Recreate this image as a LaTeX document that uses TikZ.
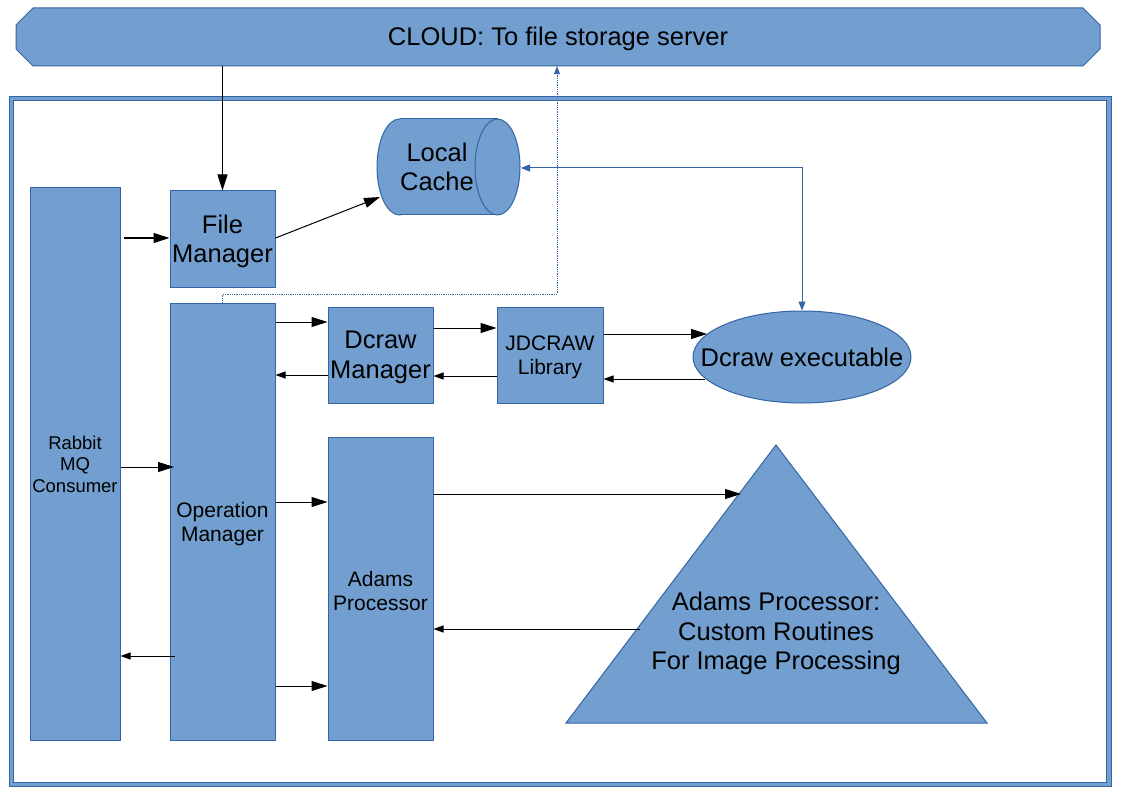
\documentclass[tikz,border=0pt]{standalone}
\usepackage{fontspec}
\setmainfont{Liberation Sans}
\usetikzlibrary{arrows.meta,shapes.geometric}
\definecolor{fillc}{HTML}{729FCF}
\definecolor{bordc}{HTML}{3465A4}
\newcommand{\bigf}{\fontsize{25.5}{29.3}\selectfont}
\newcommand{\medf}{\fontsize{21}{24.2}\selectfont}
\newcommand{\smlf}{\fontsize{18.5}{21.5}\selectfont}
\tikzset{
  box/.style={draw=bordc, fill=fillc, line width=1pt, inner sep=0pt},
  bt/.style={align=center, inner sep=0pt, text=black, yshift=-2.5pt},
  bt0/.style={align=center, inner sep=0pt, text=black},
  shp/.style={draw=bordc, fill=fillc, line width=1pt},
  bigarr/.style={line width=1pt, -{Triangle[length=16pt,width=10pt]}},
  smlarr/.style={line width=1pt, -{Triangle[length=10pt,width=7pt]}},
  bluearr/.style={draw=bordc, line width=1pt, {Triangle[length=9pt,width=7pt]}-{Triangle[length=9pt,width=7pt]}},
}
\begin{document}
\begin{tikzpicture}[x=1pt,y=-1pt]
\useasboundingbox (0,0) rectangle (1123,794);
% frame
\draw[shp] (9,97) rectangle (1111,786);
\draw[draw=bordc, fill=white, line width=1pt] (13.5,101) rectangle (1106.5,782);
% cloud
\draw[shp] (33,8) -- (1083,8) -- (1100,25) -- (1100,49) -- (1083,66) -- (33,66) -- (16,49) -- (16,25) -- cycle;
\node[inner sep=0pt, minimum width=1084pt, minimum height=58pt, label={[bt0,yshift=-1.5pt,font=\bigf]center:CLOUD: To file storage server}] (cloud) at (558,37) {};
% local cache cylinder
\draw[shp] (399.5,167) ellipse [x radius=22.5, y radius=48];
\fill[fillc] (399.5,119) rectangle (497.5,215);
\draw[draw=bordc, line width=1pt] (399.5,119) -- (497.5,119) (399.5,215) -- (497.5,215);
\draw[shp] (497.5,167) ellipse [x radius=22.5, y radius=48];
\node[bt0, font=\bigf] (cache) at (437,167) {Local\\Cache};
\coordinate (cacheE) at (521,168);
\coordinate (cacheW) at (380,197);
% boxes
\node[box, minimum width=90pt, minimum height=552pt, label={[bt0,font=\smlf]center:{Rabbit\\MQ\\Consumer}}] (rabbit) at (75,464) {};
\node[box, minimum width=105pt, minimum height=96pt, label={[bt,font=\bigf]center:{File\\Manager}}] (fm) at (222.5,239) {};
\node[box, minimum width=105pt, minimum height=437pt, label={[bt,font=\medf]center:{Operation\\Manager}}] (opm) at (222.5,521.5) {};
\node[box, minimum width=105pt, minimum height=96pt, label={[bt,font=\bigf]center:{Dcraw\\Manager}}] (dm) at (380.5,355) {};
\node[box, minimum width=106pt, minimum height=96pt, label={[bt,font=\medf]center:{JDCRAW\\Library}}] (jd) at (550,355) {};
\node[box, minimum width=105pt, minimum height=303pt, label={[bt,font=\medf]center:{Adams\\Processor}}] (ap) at (380.5,588.5) {};
\node[box, ellipse, minimum width=218pt, minimum height=92pt, label={[bt0,font=\bigf]center:Dcraw executable}] (dexe) at (802,357) {};
% triangle
\draw[shp] (776,445) -- (987,723) -- (566,723) -- cycle;
\node[bt, font=\bigf] (tri) at (776,631) {Adams Processor:\\Custom Routines\\For Image Processing};
\coordinate (triin) at (741,494);
\coordinate (triout) at (640,629);
% connectors
\draw[bigarr] (cloud.south -| fm.north) -- (fm.north);
\draw[bigarr] (124,238) -- (fm.west |- 0,238);
\draw[bigarr] (fm.east |- 0,238) -- (cacheW);
\draw[draw=bordc, line width=0.8pt, densely dotted, -{Triangle[length=8pt,width=6pt]}] (opm.north) |- (557,294) -- (cloud.south -| 557,0);
\draw[bluearr] (cacheE) -- (802,168) -- (dexe.north);
\draw[bigarr] (opm.east |- 0,322) -- (dm.west |- 0,322);
\draw[smlarr] (dm.west |- 0,375) -- (opm.east |- 0,375);
\draw[bigarr] (dm.east |- 0,328) -- (jd.west |- 0,328);
\draw[smlarr] (jd.west |- 0,376) -- (dm.east |- 0,376);
\draw[bigarr] (jd.east |- 0,334) -- (707,334);
\draw[smlarr] (705,379) -- (jd.east |- 0,379);
\draw[bigarr] (rabbit.east |- 0,467) -- (174,467);
\draw[smlarr] (175,656) -- (rabbit.east |- 0,656);
\draw[bigarr] (opm.east |- 0,502) -- (ap.west |- 0,502);
\draw[bigarr] (opm.east |- 0,686) -- (ap.west |- 0,686);
\draw[bigarr] (ap.east |- 0,494) -- (triin);
\draw[smlarr] (triout) -- (ap.east |- 0,629);
\end{tikzpicture}
\end{document}
